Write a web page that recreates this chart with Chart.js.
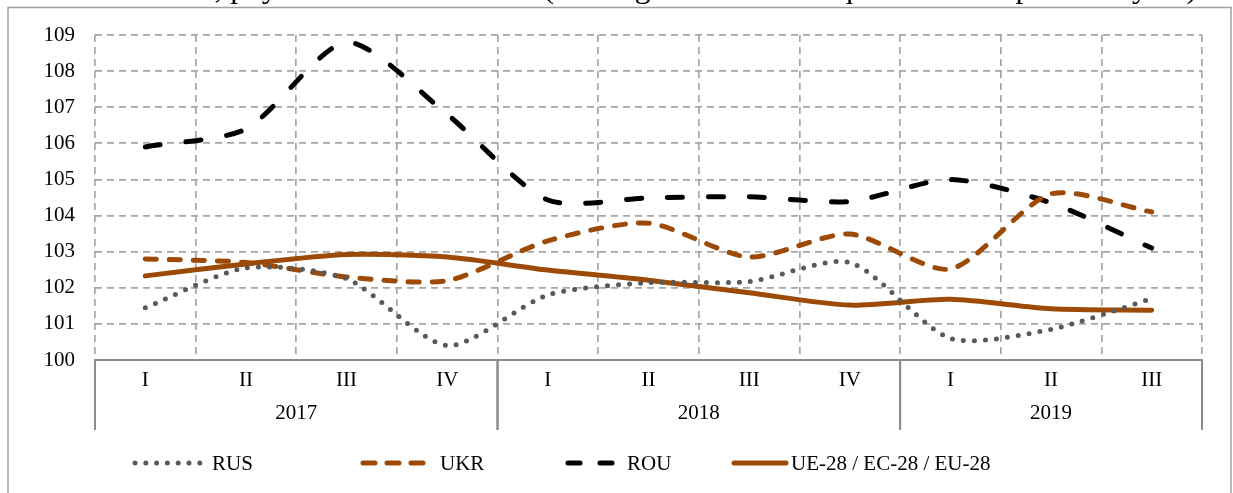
<!DOCTYPE html>
<html>
<head>
<meta charset="utf-8">
<script src="https://cdn.jsdelivr.net/npm/chart.js@4.4.1/dist/chart.umd.min.js"></script>
<style>
    body { margin: 0; background: #fff; }
    #caixa { position: relative; width: 1233px; height: 493px; overflow: hidden; }
    #caixa canvas { position: absolute; left: 0; top: 0; }
    #titulo { position: absolute; left: 0; top: 0; display: block; }
</style>
</head>
<body>
<div id="caixa">
    <canvas id="myChart"></canvas>
    <svg id="titulo" width="1233" height="9">
        <text x="-12" y="-2.5" textLength="1209" lengthAdjust="spacingAndGlyphs" font-family="Liberation Serif" font-size="29" fill="#000">Evolution of GDP, physical volume indices (in % against the same quarter of the previous year)</text>
    </svg>
</div>
<script>
// dados do grafico
var trimestres = ['I', 'II', 'III', 'IV', 'I', 'II', 'III', 'IV', 'I', 'II', 'III'];
var anos = ['2017', '2018', '2019'];
var trimestresPorAno = [4, 4, 3];
var nomesSeries = ['RUS', 'UKR', 'ROU', 'UE-28 / EC-28 / EU-28'];
var dadosRUS = [101.45, 102.55, 102.25, 100.4, 101.8, 102.14, 102.17, 102.7, 100.6, 100.85, 101.7];
var dadosUKR = [102.8, 102.7, 102.3, 102.2, 103.3, 103.79, 102.85, 103.49, 102.52, 104.6, 104.1];
var dadosROU = [105.9, 106.4, 108.8, 106.8, 104.43, 104.49, 104.52, 104.39, 105.0, 104.35, 103.1];
var dadosUE = [102.33, 102.66, 102.92, 102.85, 102.49, 102.21, 101.86, 101.52, 101.68, 101.42, 101.38];
var eixoMin = 100;
var eixoMax = 109;

const fonte = '"Liberation Serif", "Times New Roman", serif';
const corGrade = '#a6a6a6';
const corEixo = '#8c8c8c';
const marrom = '#9c4a06';

// moldura externa do grafico
const moldura = {
    id: 'moldura',
    beforeDraw(chart) {
        const ctx = chart.ctx;
        ctx.save();
        ctx.strokeStyle = '#a0a0a0';
        ctx.lineWidth = 1.5;
        ctx.beginPath();
        ctx.moveTo(8, 500);
        ctx.lineTo(8, 7.5);
        ctx.lineTo(1231, 7.5);
        ctx.lineTo(1231, 500);
        ctx.stroke();
        ctx.restore();
    }
};

// linha dos anos abaixo dos trimestres
const grupoAnos = {
    id: 'grupoAnos',
    afterDraw(chart) {
        const ctx = chart.ctx;
        const x = chart.scales.x;
        const largura = x.width / trimestres.length;
        const topo = x.top;
        ctx.save();
        ctx.strokeStyle = corEixo;
        ctx.lineWidth = 2;
        ctx.fillStyle = '#000';
        ctx.font = '21px ' + fonte;
        ctx.textAlign = 'center';
        ctx.textBaseline = 'middle';
        let inicio = 0;
        for (let i = 0; i < anos.length; i++) {
            const esq = x.getPixelForValue(inicio) - largura / 2;
            const fim = inicio + trimestresPorAno[i] - 1;
            const dir = x.getPixelForValue(fim) + largura / 2;
            ctx.beginPath();
            ctx.moveTo(esq, topo);
            ctx.lineTo(esq, topo + 70);
            ctx.moveTo(dir, topo);
            ctx.lineTo(dir, topo + 70);
            ctx.stroke();
            ctx.fillText(anos[i], (esq + dir) / 2, topo + 53);
            inicio += trimestresPorAno[i];
        }
        ctx.restore();
    }
};

// legenda desenhada a mao
const legendaManual = {
    id: 'legendaManual',
    afterDraw(chart) {
        const ctx = chart.ctx;
        const posX = [135, 363, 568, 734];
        const comp = [65, 65, 47, 52];
        const y = 463;
        ctx.save();
        chart.data.datasets.forEach(function (ds, i) {
            ctx.save();
            ctx.strokeStyle = ds.borderColor;
            ctx.lineWidth = ds.borderWidth;
            ctx.lineCap = ds.borderCapStyle;
            ctx.setLineDash(ds.legendaDash || []);
            ctx.beginPath();
            ctx.moveTo(posX[i], y);
            ctx.lineTo(posX[i] + comp[i], y);
            ctx.stroke();
            ctx.restore();
            ctx.fillStyle = '#000';
            ctx.font = '21px ' + fonte;
            ctx.textBaseline = 'middle';
            ctx.fillText(ds.label, posX[i] + comp[i] + (i == 3 ? 5 : 12), y + 1);
        });
        ctx.restore();
    }
};

const ctx1 = document.getElementById('myChart');

new Chart(ctx1, {
    type: 'line',
    data: {
        labels: trimestres,
        datasets: [{
            label: nomesSeries[0],
            data: dadosRUS,
            borderColor: '#595959',
            borderWidth: 5,
            borderCapStyle: 'round',
            borderDash: [0, 11],
            legendaDash: [0, 10.8],
            pointRadius: 0,
            tension: 0.25
        }, {
            label: nomesSeries[1],
            data: dadosUKR,
            borderColor: marrom,
            borderWidth: 5,
            borderCapStyle: 'round',
            borderDash: [11, 13],
            legendaDash: [12, 12],
            pointRadius: 0,
            tension: 0.25
        }, {
            label: nomesSeries[2],
            data: dadosROU,
            borderColor: '#000',
            borderWidth: 5,
            borderCapStyle: 'round',
            borderDash: [15, 26],
            legendaDash: [12, 20],
            pointRadius: 0,
            tension: 0.25
        }, {
            label: nomesSeries[3],
            data: dadosUE,
            borderColor: marrom,
            borderWidth: 5,
            borderCapStyle: 'round',
            pointRadius: 0,
            tension: 0.25
        }]
    },
    options: {
        responsive: true,
        maintainAspectRatio: false,
        animation: false,
        layout: {
            padding: { left: 0, top: 35, right: 31, bottom: 0 }
        },
        plugins: {
            legend: { display: false },
            tooltip: { enabled: false }
        },
        scales: {
            x: {
                offset: true,
                grid: {
                    offset: true,
                    color: corGrade,
                    lineWidth: 1.7,
                    drawTicks: false
                },
                border: {
                    display: true,
                    color: corEixo,
                    width: 2,
                    dash: [7, 5]
                },
                ticks: {
                    color: '#000',
                    padding: 8,
                    maxRotation: 0,
                    autoSkip: false,
                    font: { family: fonte, size: 21 }
                },
                afterFit(escala) {
                    escala.height = 133;
                }
            },
            y: {
                min: eixoMin,
                max: eixoMax,
                grid: {
                    color: corGrade,
                    lineWidth: 1.7,
                    drawTicks: false
                },
                border: {
                    display: false,
                    dash: [7, 5]
                },
                ticks: {
                    stepSize: 1,
                    color: '#000',
                    padding: 20,
                    font: { family: fonte, size: 21 }
                },
                afterFit(escala) {
                    escala.width = 95;
                }
            }
        }
    },
    plugins: [moldura, grupoAnos, legendaManual]
});
</script>
</body>
</html>
